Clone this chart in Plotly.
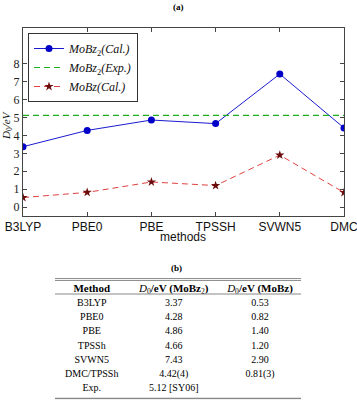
import plotly.graph_objects as go

methods = ["B3LYP", "PBE0", "PBE", "TPSSH", "SVWN5", "DMC"]
mobz2_cal = [3.37, 4.28, 4.86, 4.66, 7.43, 4.42]
mobz2_exp = 5.12
mobz_cal = [0.53, 0.82, 1.40, 1.20, 2.90, 0.81]
y_ticks = [0, 1, 2, 3, 4, 5, 6, 7, 8]

tbl_methods = ["B3LYP", "PBE0", "PBE", "TPSSh", "SVWN5", "DMC/TPSSh", "Exp."]
tbl_mobz2 = ["3.37", "4.28", "4.86", "4.66", "7.43", "4.42(4)", "5.12 [SY06]"]
tbl_mobz = ["0.53", "0.82", "1.40", "1.20", "2.90", "0.81(3)", ""]
tbl_header = ["<b>Method</b>", "<i>D</i><sub>0</sub><b>/eV (MoBz</b><sub>2</sub><b>)</b>",
              "<i>D</i><sub>0</sub><b>/eV (MoBz)</b>"]

W, H = 357, 400
def px(x): return x / W
def py(y): return 1 - y / H

# table layout (column widths in px, row pitch)
col_w = [73.5, 90.5, 82]
col_c = [sum(col_w[:i]) + col_w[i] / 2 for i in range(len(col_w))]
tbl_top, tbl_bot = 278.0, 399.5
row0_px, pitch = 289.0, 14.28
y2_top = -(row0_px - tbl_top) / pitch
y2_bot = (tbl_bot - row0_px) / pitch

fig = go.Figure()
fig.add_trace(go.Scatter(x=methods, y=mobz2_cal, mode="lines+markers",
                         name="<i>MoBz</i><sub>2</sub><i>(Cal.)</i>",
                         line=dict(color="#1a1ad0", width=1),
                         marker=dict(color="#0000c8", size=7, symbol="circle")))
fig.add_trace(go.Scatter(x=methods, y=[mobz2_exp] * len(methods), mode="lines",
                         name="<i>MoBz</i><sub>2</sub><i>(Exp.)</i>",
                         line=dict(color="#1fae1f", width=1.2, dash="6px,4px")))
fig.add_trace(go.Scatter(x=methods, y=mobz_cal, mode="lines+markers",
                         name="<i>MoBz(Cal.)</i>",
                         line=dict(color="#e04040", width=1, dash="6px,4px"),
                         marker=dict(color="#6a0a0a", size=7, symbol="star")))

# table as text on its own hidden axes
fig.add_trace(go.Scatter(x=col_c, y=[0, 0, 0], mode="text", text=tbl_header,
                         textposition="middle center", showlegend=False, hoverinfo="skip",
                         textfont=dict(family="Liberation Serif", size=11, color="black"),
                         xaxis="x2", yaxis="y2", cliponaxis=False))
for ci, col in enumerate([tbl_methods, tbl_mobz2, tbl_mobz]):
    fig.add_trace(go.Scatter(x=[col_c[ci]] * len(col), y=list(range(1, len(col) + 1)),
                             mode="text", text=col, textposition="middle center",
                             showlegend=False, hoverinfo="skip",
                             textfont=dict(family="Liberation Serif", size=10, color="black"),
                             xaxis="x2", yaxis="y2", cliponaxis=False))

axis_common = dict(showline=True, linecolor="#444", linewidth=1, mirror="ticks",
                   ticks="inside", ticklen=4, tickcolor="#444", showgrid=False,
                   zeroline=False)
rule = dict(type="line", xref="x2", yref="y2", x0=0, x1=sum(col_w))
ann = dict(xref="paper", yref="paper", xanchor="center", yanchor="middle", showarrow=False)
fig.update_layout(
    width=W, height=H, margin=dict(l=0, r=0, t=0, b=0),
    paper_bgcolor="white", plot_bgcolor="white",
    xaxis=dict(domain=[px(23), px(344)], range=[0, 5], type="category",
               tickfont=dict(family="Liberation Sans", size=12, color="#111"),
               automargin=False, **axis_common),
    yaxis=dict(domain=[py(216), py(28)], range=[-0.5, 10], tickvals=y_ticks,
               tickfont=dict(family="Liberation Serif", size=12, color="#222"),
               automargin=False, **axis_common),
    xaxis2=dict(domain=[px(55), px(301)], range=[0, sum(col_w)], visible=False,
                fixedrange=True),
    yaxis2=dict(domain=[py(tbl_bot), py(tbl_top)], range=[y2_bot, y2_top], visible=False,
                fixedrange=True),
    legend=dict(x=px(28), y=py(33), xanchor="left", yanchor="top",
                bgcolor="white", bordercolor="#333", borderwidth=1,
                font=dict(family="Liberation Serif", size=12, color="#111"),
                itemwidth=30, tracegroupgap=0),
    showlegend=True,
    annotations=[
        dict(ann, text="<b>(a)</b>", x=px(178), y=py(7),
             font=dict(family="Liberation Serif", size=9, color="black")),
        dict(ann, text="methods", x=px(183), y=py(237),
             font=dict(family="Liberation Sans", size=12, color="#111")),
        dict(ann, text="<i>D</i><sub>0</sub><i>/eV</i>", x=px(7), y=py(126), textangle=-90,
             font=dict(family="Liberation Serif", size=11, color="#111")),
        dict(ann, text="<b>(b)</b>", x=px(176), y=py(268),
             font=dict(family="Liberation Serif", size=9, color="black")),
    ],
    shapes=[
        dict(rule, y0=y2_top + 0.03, y1=y2_top + 0.03, line=dict(color="#888", width=1)),
        dict(rule, y0=y2_top + 0.17, y1=y2_top + 0.17, line=dict(color="#888", width=1)),
        dict(rule, y0=0.35, y1=0.35, line=dict(color="#888", width=1)),
        dict(rule, y0=y2_bot - 0.07, y1=y2_bot - 0.07, line=dict(color="#888", width=1.5)),
    ],
)

fig.write_html("out.html")
